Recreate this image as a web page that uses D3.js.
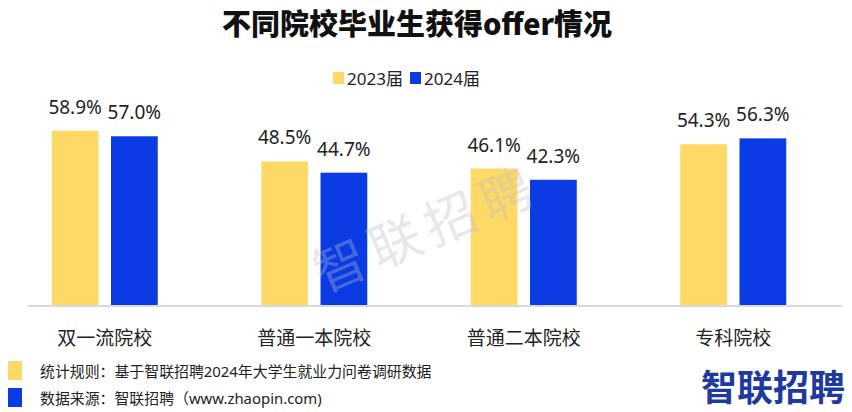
<!DOCTYPE html>
<html>
<head>
<meta charset="utf-8">
<script src="https://cdn.jsdelivr.net/npm/d3@7/dist/d3.min.js"></script>
<style>
html,body{margin:0;padding:0;background:#fff;}
svg{display:block;}
text{font-family:"Noto Sans","Noto Sans CJK SC",sans-serif;}
</style>
</head>
<body>
<svg id="chart" width="852" height="412"></svg>
<script>
const categories = ["双一流院校", "普通一本院校", "普通二本院校", "专科院校"];
const seriesNames = ["2023届", "2024届"];
const values2023 = [58.9, 48.5, 46.1, 54.3];
const values2024 = [57.0, 44.7, 42.3, 56.3];
const colors = ["#FFD966", "#0A3BE3"];
const title = "不同院校毕业生获得offer情况";
const notes = ["统计规则：基于智联招聘2024年大学生就业力问卷调研数据", "数据来源：智联招聘（www.zhaopin.com)"];

const svg = d3.select("#chart");
const seriesValues = [values2023, values2024];

const x0 = d3.scaleBand().domain(categories).range([0, 838]).paddingInner(0.494).paddingOuter(0.247);
const x1 = d3.scaleBand().domain(seriesNames).range([0, x0.bandwidth()]).paddingInner(0.211);
const y = d3.scaleLinear().domain([0, 100]).range([305, 9]);
const color = d3.scaleOrdinal().domain(seriesNames).range(colors);

// title
svg.append("text").attr("x", 417).attr("y", 35).attr("text-anchor", "middle")
  .attr("font-size", 29).attr("font-weight", 900).attr("fill", "#111")
  .style("font-family", '"Noto Sans CJK SC",sans-serif').text(title);

// legend
const legendX = [333, 410];
seriesNames.forEach((s, i) => {
  svg.append("rect").attr("x", legendX[i]).attr("y", 72).attr("width", 11).attr("height", 12).attr("fill", color(s));
  svg.append("text").attr("x", legendX[i] + 14).attr("y", 85).attr("font-size", 17).attr("fill", "#222").text(s);
});

// bars
const data = categories.map((c, ci) => ({ c, vals: seriesNames.map((s, si) => ({ s, v: seriesValues[si][ci] })) }));
const g = svg.append("g").selectAll("g").data(data).join("g").attr("transform", d => `translate(${x0(d.c)},0)`);
g.selectAll("rect").data(d => d.vals).join("rect")
  .attr("x", d => x1(d.s)).attr("width", x1.bandwidth())
  .attr("y", d => y(d.v)).attr("height", d => y(0) - y(d.v))
  .attr("fill", d => color(d.s));
g.selectAll("text.val").data(d => d.vals).join("text").attr("class", "val")
  .attr("x", d => x1(d.s) + x1.bandwidth() / 2).attr("y", d => y(d.v) - 17)
  .attr("text-anchor", "middle").attr("font-size", 19).attr("fill", "#222")
  .text(d => d.v.toFixed(1) + "%");

// baseline
svg.append("line").attr("x1", 28).attr("x2", 842).attr("y1", y(0) + 1).attr("y2", y(0) + 1)
  .attr("stroke", "#d9d9d9").attr("stroke-width", 2);

// category labels
svg.append("g").selectAll("text").data(categories).join("text")
  .attr("x", d => x0(d) + x0.bandwidth() / 2).attr("y", 345)
  .attr("text-anchor", "middle").attr("font-size", 19).attr("fill", "#222").text(d => d);

// watermark
svg.append("text").attr("transform", "translate(434,246) rotate(-23)")
  .attr("text-anchor", "middle").attr("font-size", 52).attr("font-weight", 400)
  .attr("letter-spacing", 8)
  .attr("fill", "#b4bccb").attr("fill-opacity", 0.35)
  .style("font-family", '"Noto Sans CJK SC",sans-serif').text("智联招聘");

// notes
const noteY = [361, 388];
notes.forEach((t, i) => {
  svg.append("rect").attr("x", 8).attr("y", noteY[i]).attr("width", 14).attr("height", 19).attr("fill", colors[i]);
  svg.append("text").attr("x", 40).attr("y", noteY[i] + 16).attr("font-size", 14.9).attr("fill", "#222").text(t);
});

// logo
svg.append("text").attr("x", 845).attr("y", 401).attr("text-anchor", "end")
  .attr("font-size", 36).attr("font-weight", 700).attr("fill", "#1F3A9E")
  .style("font-family", '"Noto Sans CJK SC",sans-serif').text("智联招聘");
</script>
</body>
</html>
